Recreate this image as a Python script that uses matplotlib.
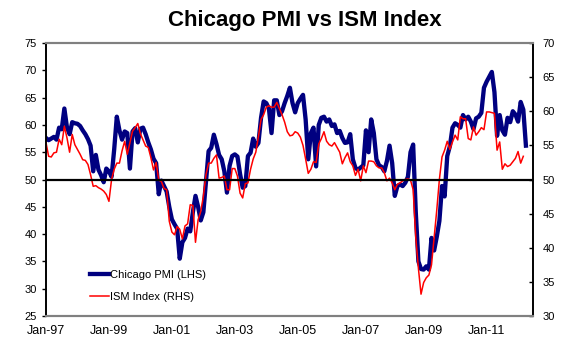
import numpy as np
import matplotlib
matplotlib.use("Agg")
import matplotlib.pyplot as plt

plt.rcParams["font.family"] = ["Liberation Sans", "DejaVu Sans"]

# monthly values, Jan-97 onwards
chicago_pmi = [
    57.6, 57.2, 57.5, 57.8, 57.3, 59.5, 59.2, 63.0, 59.5, 58.3, 60.5, 60.3,  # 1997
    60.2, 59.8, 59.0, 58.3, 57.4, 56.2, 51.5, 54.5, 51.8, 50.8, 49.5, 52.0,  # 1998
    51.5, 50.5, 55.5, 61.5, 59.0, 57.3, 58.8, 58.5, 52.0, 58.8, 59.4, 56.8,  # 1999
    59.3, 59.5, 58.3, 56.8, 55.5, 53.8, 53.0, 47.3, 49.8, 48.8, 47.8, 45.0,  # 2000
    42.7, 41.8, 41.0, 35.5, 38.5, 39.3, 41.0, 40.5, 44.0, 47.0, 45.0, 42.5,  # 2001
    44.0, 49.5, 55.2, 55.8, 58.2, 56.5, 54.5, 53.7, 51.5, 47.6, 52.5, 54.3,  # 2002
    54.6, 54.2, 51.0, 48.5, 48.8, 54.3, 54.9, 57.5, 56.0, 56.7, 61.3, 64.3,  # 2003
    64.0, 63.0, 58.5, 64.5, 64.5, 61.8, 62.5, 64.0, 65.3, 66.8, 64.0, 62.3,  # 2004
    64.0, 64.8, 65.5, 61.0, 53.7, 58.5, 59.5, 52.4, 60.0, 61.3, 61.5, 60.6,  # 2005
    61.0, 59.8, 60.1, 58.5, 58.9, 57.6, 56.7, 56.8, 58.3, 53.7, 52.1, 51.8,  # 2006
    52.2, 52.6, 59.0, 55.0, 61.0, 58.5, 53.7, 52.6, 52.3, 51.5, 53.4, 56.2,  # 2007
    53.0, 47.0, 48.8, 49.1, 48.8, 49.4, 50.5, 55.0, 56.4, 44.0, 35.0, 33.6,  # 2008
    33.5, 34.1, 33.5, 39.3, 37.0, 39.5, 42.4, 48.8, 46.9, 54.3, 56.1, 59.5,  # 2009
    60.3, 60.0, 59.5, 61.8, 61.0, 61.5, 60.6, 59.2, 61.2, 61.5, 62.2, 66.8,  # 2010
    67.9, 68.8, 69.7, 66.0, 58.0, 61.8, 59.0, 58.2, 61.3, 60.5, 62.5, 61.9,  # 2011
    60.6, 64.2, 62.8, 56.2,                                                  # 2012
]

ism_index = [
    55.4, 53.4, 53.3, 53.9, 54.0, 55.9, 55.1, 57.8, 56.1, 54.0, 56.6, 55.1,
    54.4, 53.7, 52.9, 52.8, 52.2, 50.7, 49.0, 49.1, 48.8, 48.6, 48.3, 47.8,
    46.8, 50.0, 51.5, 52.4, 52.4, 54.2, 55.6, 53.7, 55.4, 57.1, 57.6, 58.2,
    56.7, 55.8, 54.9, 54.7, 53.2, 51.4, 52.5, 49.9, 49.7, 48.7, 48.5, 43.9,
    42.3, 41.9, 43.1, 42.7, 41.3, 43.2, 43.5, 46.3, 46.2, 40.8, 44.1, 45.3,
    47.5, 50.7, 52.4, 52.4, 53.1, 53.6, 50.2, 50.3, 50.5, 48.5, 48.5, 51.6,
    51.6, 50.5, 48.0, 47.3, 49.4, 49.5, 51.5, 53.0, 54.0, 56.3, 58.8, 59.5,
    60.6, 60.8, 60.6, 60.6, 61.3, 60.4, 59.5, 58.4, 57.0, 56.4, 56.5, 57.0,
    56.8, 56.2, 55.0, 53.0, 50.9, 51.5, 52.6, 52.5, 55.2, 56.0, 57.0, 55.6,
    55.1, 54.9, 55.4, 54.7, 54.0, 52.3, 53.2, 53.9, 52.6, 52.0, 50.6, 51.5,
    49.8, 52.0, 51.0, 52.7, 52.7, 52.6, 52.0, 51.7, 51.7, 51.0, 49.8, 50.2,
    49.5, 48.5, 49.3, 49.5, 49.8, 50.0, 50.1, 49.9, 48.5, 41.5, 37.0, 33.2,
    34.9, 35.6, 36.0, 37.5, 41.5, 45.5, 50.0, 53.3, 54.3, 55.6, 54.4, 55.5,
    56.5, 55.8, 59.2, 58.9, 58.9, 56.0, 55.8, 57.7, 56.5, 57.0, 57.6, 57.3,
    59.9, 59.9, 59.8, 59.7, 54.3, 55.5, 51.5, 52.3, 51.9, 52.1, 52.6, 53.1,
    54.1, 52.4, 53.4,
]

tick_labels = ["Jan-97", "Jan-99", "Jan-01", "Jan-03", "Jan-05", "Jan-07", "Jan-09", "Jan-11"]
tick_months = [0, 24, 48, 72, 96, 120, 144, 168]

fig = plt.figure(figsize=(5.88, 3.5), dpi=100)
ax = fig.add_axes([46 / 588, 34 / 350, 487 / 588, 273 / 350])
ax2 = ax.twinx()

l1, = ax.plot(np.arange(len(chicago_pmi)), chicago_pmi, color="#000080", lw=3.1,
              solid_joinstyle="round", label="Chicago PMI (LHS)")
l2, = ax2.plot(np.arange(len(ism_index)), ism_index, color="#ff0000", lw=1.1,
               label="ISM Index (RHS)")
ax2.axhline(50, color="black", lw=1.6, zorder=5)

ax.set_xlim(0, 185.7)
ax.set_ylim(25, 75)
ax2.set_ylim(30, 70)
ax.set_yticks(range(25, 80, 5))
ax2.set_yticks(range(30, 75, 5))
ax.set_xticks(tick_months)
ax.set_xticklabels(tick_labels)

ax.tick_params(axis="x", length=0, pad=6.5, labelsize=9)
ax.tick_params(axis="y", direction="out", length=3, width=1, pad=3.5, labelsize=8)
ax2.tick_params(axis="y", direction="in", length=3, width=1, pad=7, labelsize=8)

for a in (ax, ax2):
    a.spines["top"].set_color("#808080")
    a.spines["bottom"].set_color("#808080")
    a.spines["top"].set_linewidth(1.5)
    a.spines["bottom"].set_linewidth(1.5)
    a.spines["left"].set_color("black")
    a.spines["right"].set_color("black")
    a.spines["left"].set_linewidth(1.2)
    a.spines["right"].set_linewidth(1.2)

ax2.legend(handles=[l1, l2], loc="upper left", bbox_to_anchor=(0.0903, 0.1685),
           frameon=False, fontsize=8, handlelength=1.7, handletextpad=0.1,
           labelspacing=1.1, borderpad=0, borderaxespad=0)

fig.text(305 / 588, 1 - 26 / 350, "Chicago PMI vs ISM Index", ha="center",
         va="baseline", fontsize=16, fontweight="bold")

fig.savefig("out.png", dpi=100)
